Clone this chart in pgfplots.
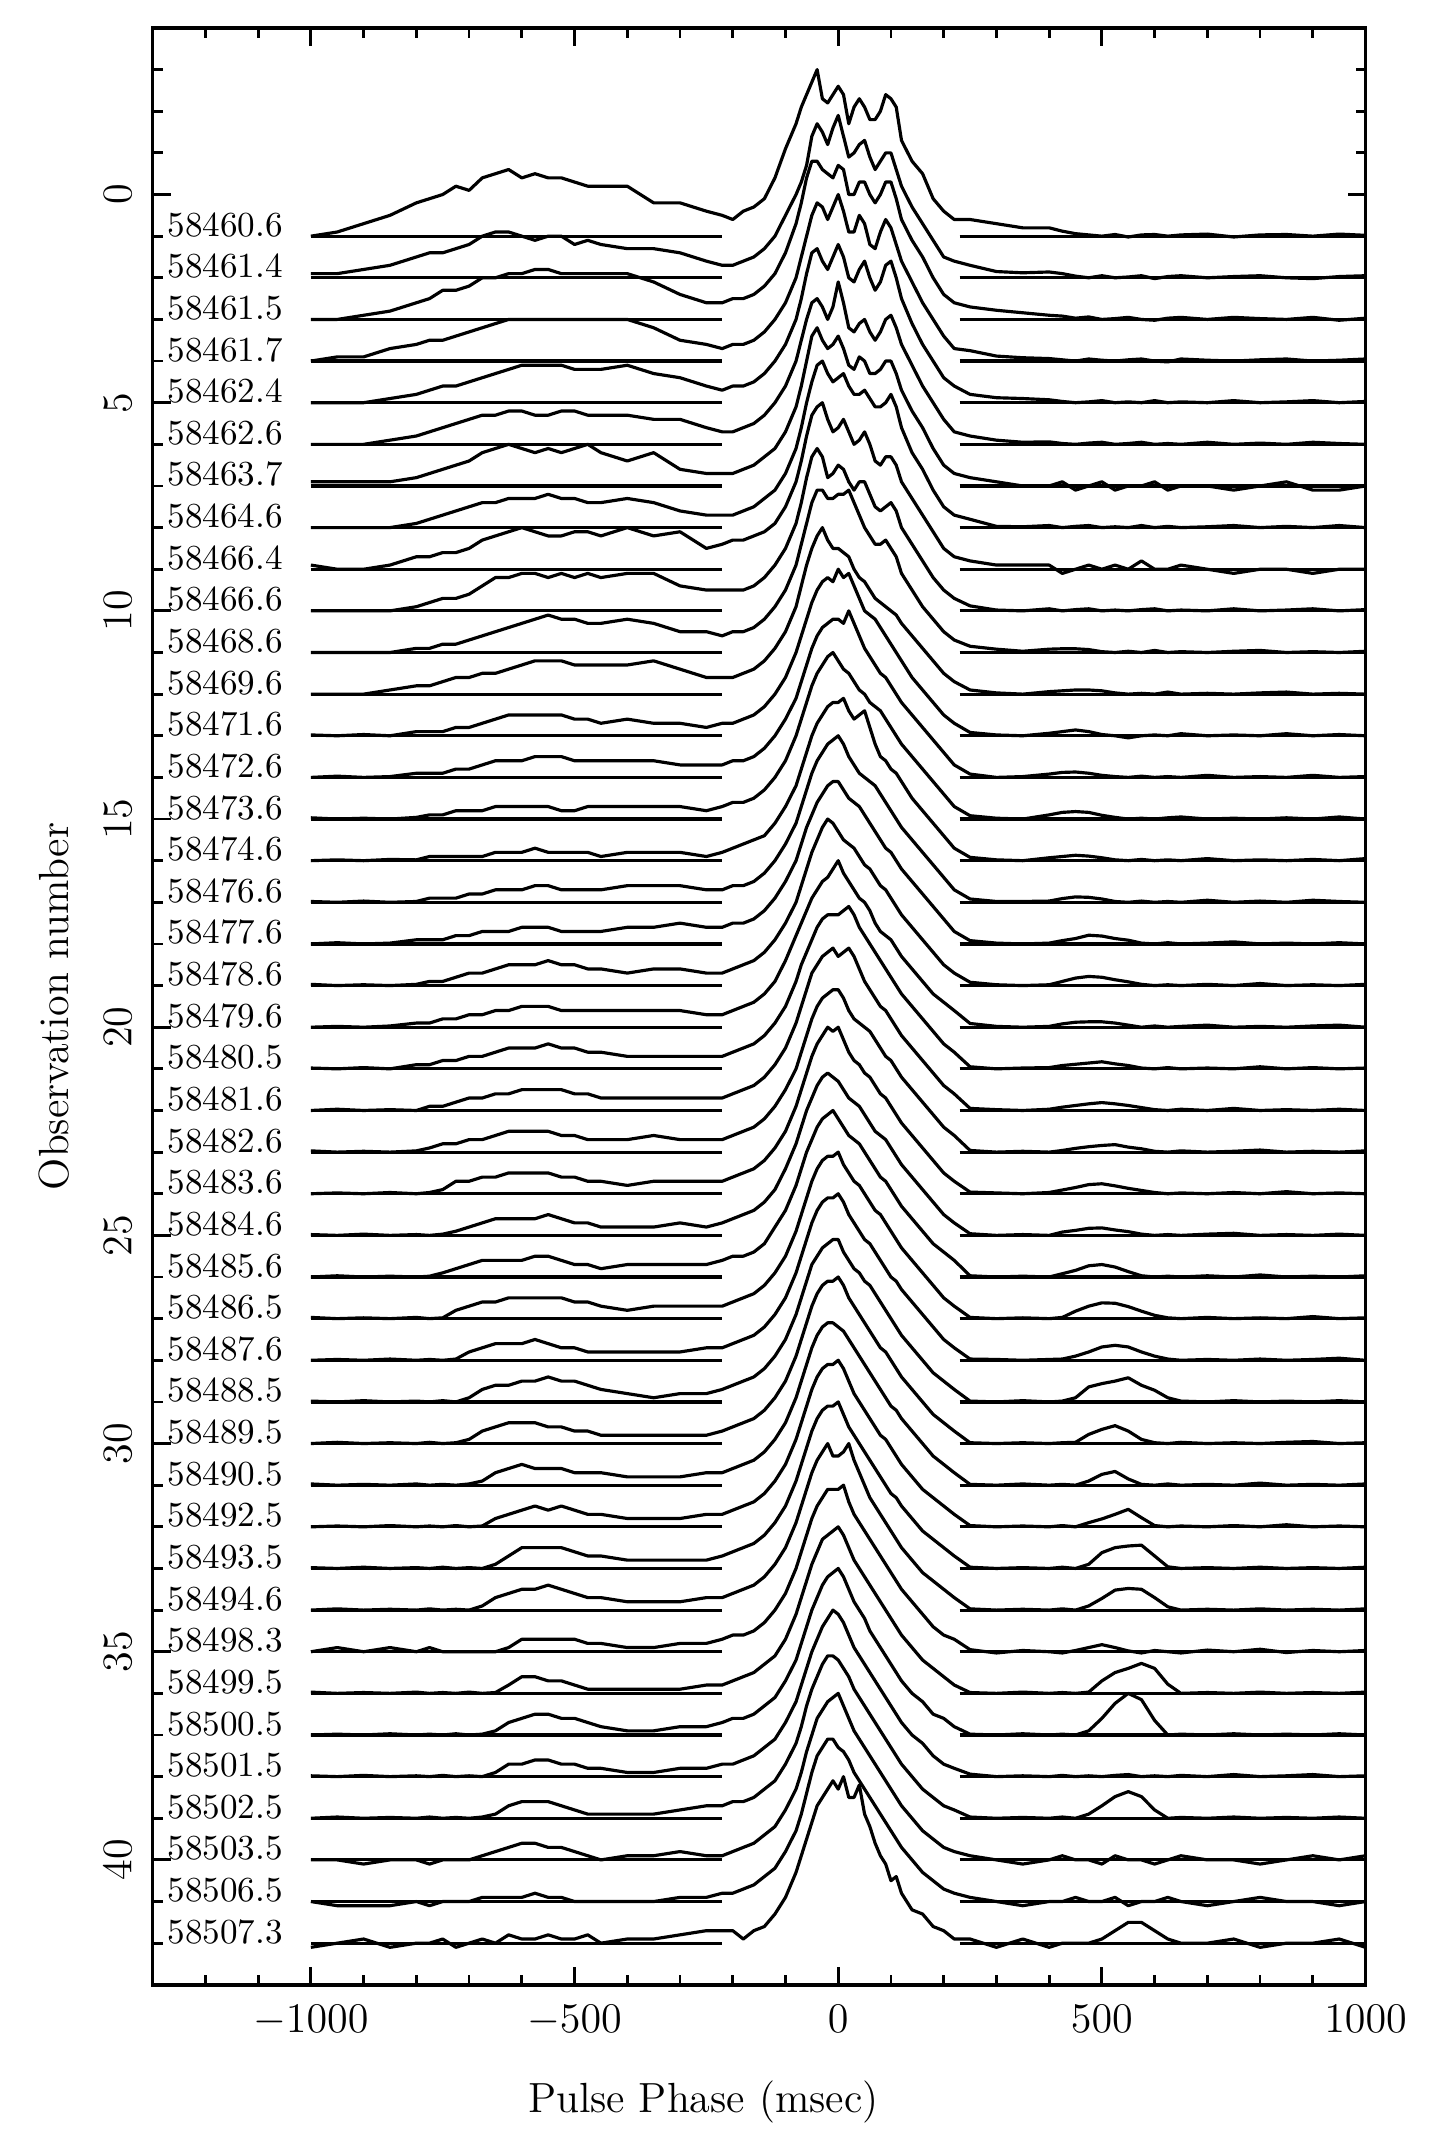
\documentclass[border=0pt]{standalone}
\usepackage{pgfplots}
\usepackage{pgfplotstable}
\pgfplotsset{compat=1.18}
\tikzset{dlab/.style={anchor=base west, inner sep=0pt, font=\fontsize{10}{12}\selectfont}}

% one row per observation, amplitudes in tenths of the row spacing
\pgfplotstableread[header=has colnames]{
n -1000 -950 -900 -850 -800 -775 -750 -725 -700 -675 -650 -625 -600 -575 -550 -525 -500 -475 -450 -400 -350 -300 -250 -220 -200 -180 -160 -140 -120 -100 -80 -70 -60 -50 -40 -30 -20 -10 0 10 20 30 40 50 60 70 80 90 100 110 120 140 160 180 200 220 250 300 350 400 425 450 475 500 525 550 575 600 625 650 700 750 800 850 900 950 1000
1 0 1 3 5 8 9 10 12 11 14 15 16 14 15 14 14 13 12 12 12 8 8 6 5 4 6 7 9 14 21 27 31 34 37 40 33 32 34 36 34 27 31 33 31 28 28 30 34 33 31 23 18 15 9 6 4 4 3 2 2 1.2 0.6 0.3 0 0.4 -0.2 0.3 0.4 0 0.3 0.5 -0.2 0.3 0.4 0 0.5 0.2
2 1 1 2 3 5 6 6 7 8 10 11 11 10 9 10 10 8 9 8 7 7 6 4 3 3 4 5 7 10 15 20 23 27 34 37 35 32 36 39 34 29 30 32 33 29 26 28 30 30 26 22 17 13 9 5 4 3 1.5 1.2 1.4 1 0.4 0 0.5 0 0.2 0.5 -0.2 0.3 0.5 0 0.3 0.5 0 -0.2 0.3 0.5
3 0 0 1 2 4 5 7 7 8 10 10 11 11 12 12 11 11 11 11 11 9 6 4 4 5 5 6 8 11 16 23 28 34 38 38 36 35 34 37 36 30 30 33 33 30 28 30 33 33 29 24 19 15 10 6 4 3 2.2 1.6 1 0.8 0.3 0.6 0 0.2 0.5 0 -0.2 0.3 0.5 0 0.5 0.2 0 0.5 -0.2 0.3
4 0 1 1 3 4 5 5 6 7 8 9 10 10 10 10 10 10 10 10 10 8 5 4 3 4 4 5 7 10 14 20 25 30 35 38 37 34 37 40 36 31 31 35 33 28 27 31 34 32 28 24 19 14 10 6 3 2.5 1.2 0.8 0.6 0.3 0 0.5 0.2 0 0.3 0.5 0 -0.2 0.5 0.2 0 0.3 0.5 0 0.2 0.5
5 0 0 0 1 2 3 4 4 5 6 7 8 9 9 9 9 8 8 8 9 7 6 4 3 4 4 5 7 10 14 20 25 31 36 37 34 32 35 38 35 30 29 32 34 30 27 29 33 34 30 25 19 14 10 6 4 2 1.2 1 0.7 0.3 0 0.2 0.5 0 0.2 0 0.5 0 0.2 0 0.5 0 0.2 0.5 0 0.3
6 0 0 0 1 2 3 4 5 6 7 7 8 8 7 7 8 8 7 7 7 6 6 4 3 3 4 5 7 10 14 20 25 30 34 35 33 30 33 39 34 28 27 29 30 27 25 27 30 31 28 24 19 14 10 6 3 2 1 0.5 0.6 0.2 0 0.3 0.5 0 0.2 0.5 0 0.2 0 0.5 0 0.3 0 0.5 0.2 0
7 1 1 1 1 2 3 4 5 6 8 9 10 9 8 9 8 9 10 8 6 8 4 3 3 3 4 5 7 9 13 19 24 30 36 38 35 33 34 36 33 29 28 31 30 27 27 28 30 30 27 23 18 14 9 5 3 2 1 0 0 1 -1 0 1 -1 0 0 1 -1 0 0 -1 0 1 -1 -1 0
8 0 0 0 0 1 2 3 4 5 6 6 7 7 7 8 7 7 6 6 7 6 4 3 3 3 4 5 7 9 13 19 24 30 35 39 40 37 35 36 37 34 32 32 33 31 29 29 30 32 29 24 18 14 9 5 3 2 0.3 0.2 0.5 0 0.3 0.5 0 0.2 0 0.5 0 0.3 0 0.2 0.5 0 0.3 0 0.5 0
9 1 0 0 1 3 3 4 4 5 7 8 9 10 9 8 8 9 9 8 10 8 9 5 6 7 7 8 9 11 15 21 26 32 37 39 40 36 33 34 36 33 30 31 33 30 26 25 27 27 25 21 17 13 9 5 3 2 1 1 1 -1 0 1 0 1 0 2 0 0 1 0 -1 0 0 -1 0 0
10 0 0 0 0 1 2 3 3 4 6 8 8 9 9 8 9 8 9 8 9 9 6 5 5 5 5 6 8 11 15 21 26 32 37 39 37 32 33 35 34 31 29 31 31 28 25 24 25 26 24 20 16 12 8 5 3 1.2 0.2 0 0.5 0 0.3 0.5 0 0.2 0 0.3 0.5 0 0.2 0 0.5 0 0.2 0.5 0 0.3
11 0 0 0 0 1 1 2 2 3 4 5 6 7 8 9 8 8 7 7 8 7 5 5 4 5 5 6 8 11 15 21 26 31 36 39 39 37 37 38 38 39 36 33 30 28 26 26 27 25 23 19 15 11 8 5 3 1.5 0.8 0.3 0.8 0.9 0.9 0.7 0.2 0 0.3 0 0.5 0 0.2 0 0.3 0.5 0 0.2 0 0.3
12 0 0 0 1 2 2 3 4 4 5 5 6 7 8 8 8 7 7 7 7 8 6 4 4 4 5 6 8 11 15 21 26 31 35 38 40 37 35 35 34 33 30 28 27 25 23 22 21 20 19 17 14 11 8 5 3 1 0.3 0 0.6 0.8 1 1 0.8 0.3 0 0.2 0 0.5 0 0.2 0 0.3 0.5 0 0.2 0
13 0.2 0 0.3 0 1 1 1 2 2 3 4 5 5 5 5 5 4 4 3 4 3 3 2 3 3 4 5 7 10 14 20 24 28 32 35 37 38 37 40 38 39 36 33 30 29 28 26 24 22 20 18 14 11 8 5 3 0.8 0.2 0 0.6 1 1.4 1 0.3 0 -0.5 0 0.2 0 0.5 0 0.2 0 0.5 0 0.3 0
14 0 0.3 0 0.2 1 1 1 2 2 3 4 4 4 5 5 5 4 4 4 4 4 3 3 3 4 4 5 7 10 14 19 23 27 31 34 36 37 38 38 37 40 37 34 31 29 27 25 24 22 20 18 15 12 9 6 3 0.8 0 0.2 0.8 1.2 1.3 1 0.5 0.2 0 0.3 0 0.2 0 0.5 0 0.2 0 0.5 0 0.2
15 0.3 0 0.2 0 0.4 1 1 2 2 2 3 3 3 3 3 2 2 3 3 3 3 3 2 3 4 4 5 7 10 14 20 24 28 32 35 37 39 40 38 36 35 33 31 30 28 27 26 24 22 20 18 15 12 9 6 3 0.8 0.2 0 1 1.6 1.8 1.6 0.9 0.4 0 0.2 0 0.3 0.5 0 0.2 0 0.3 0 0.5 0
16 0 0.2 0 0.3 0.2 1 1 1 1 1 2 2 2 3 2 2 2 2 1 2 2 2 1 2 3 4 5 6 9 13 18 22 26 30 33 35 37 38 38 39 36 34 35 36 32 28 25 24 22 21 19 15 12 9 6 3 0.8 0.2 0 0.7 1 1.3 1.1 0.7 0.2 0 0.3 0 0.2 0 0.5 0 0.2 0 0.3 0 0.5
17 0.2 0 0.3 0 0.2 1 1 1 2 2 3 3 3 4 4 3 3 3 3 4 4 4 3 3 4 4 5 7 10 14 19 23 27 31 34 36 38 39 40 38 35 33 31 30 29 28 26 24 22 20 18 15 12 9 6 3 0.8 0.2 0.2 0.3 0.9 1.3 1.2 0.8 0.2 0 0.3 0 0.2 0 0.5 0 0.3 0 0.5 0.2 0
18 0 0.3 0 0.2 1 1 1 2 2 3 3 3 4 4 4 3 3 3 3 4 4 5 4 4 5 5 6 8 11 15 20 24 28 31 34 36 38 39 39 37 35 34 33 31 29 27 25 23 22 20 18 15 12 9 6 3 0.8 0.2 0 0.2 0.8 1.3 2.1 1.9 1.3 0.9 0.2 0 0.3 0 0.2 0.5 0 0.2 0 0.3 0
19 0.3 0 0.2 0 0.3 1 1 2 3 3 4 5 5 5 6 5 5 4 4 3 4 4 3 3 4 5 6 8 11 15 20 24 28 32 35 38 40 39 37 35 34 33 31 29 28 26 24 23 21 19 17 14 11 8 5 3 0.8 0.2 0 0.2 1 1.8 2.2 2 1.4 0.9 0.3 0 0.2 0 0.3 0 0.5 0 0.2 0 0.3
20 0 0.2 0 0.3 1 1 2 2 3 3 4 4 5 5 5 4 4 4 4 4 4 4 3 3 4 5 6 8 11 16 22 25 28 31 33 35 36 38 40 37 35 33 31 30 28 25 23 22 21 19 17 14 11 8 6 4 0.9 0.2 0 0.2 0.8 1.2 1.3 1.3 1 0.5 0 0.3 0 0.2 0.5 0 0.2 0 0.3 0.5 0
21 0.2 0 0.3 0 1 1 2 2 3 3 4 5 5 5 6 5 5 4 4 3 3 3 3 3 4 5 6 8 11 15 21 25 28 31 34 36 37 37 37 38 39 37 34 32 30 28 26 24 22 20 18 15 12 9 6 4 0.5 0 0.2 0.3 0.8 1.1 1.4 1.7 1.2 0.8 0.2 0 0.3 0 0.2 0 0.5 0 0.3 0 0.2
22 0 0.3 0 0.2 0 1 1 2 3 3 4 4 5 5 5 5 4 4 3 3 3 3 3 3 4 5 6 8 11 15 21 25 29 33 35 37 38 39 37 38 39 37 34 31 29 27 25 24 22 20 18 15 12 9 6 4 0.5 0.2 0 0.3 0.8 1.2 1.6 1.9 1.6 1.2 0.7 0.2 0 0.3 0 0.5 0 0.2 0 0.3 0
23 0.3 0 0.2 0 0.3 1 2 2 3 3 4 5 5 5 5 4 4 3 3 3 4 3 3 3 4 5 6 8 11 15 20 24 28 32 35 37 38 39 39 37 34 32 31 30 29 27 25 23 22 20 18 15 12 9 6 4 0.4 0 0.2 0 0.4 0.9 1.3 1.6 1.8 1.2 0.8 0.2 0 0.3 0 0.2 0.5 0 0.2 0 0.3
24 0 0.2 0 0.3 0 0.3 1 3 3 4 4 5 5 5 5 4 4 3 3 2 3 3 3 3 4 5 6 8 11 15 21 25 29 33 36 38 40 39 40 37 34 32 31 29 28 26 24 23 21 19 17 14 11 8 5 3 0.4 0.2 0 0.3 0.9 1.5 2.2 2.4 1.9 1.3 0.8 0.3 0 0.2 0 0.3 0 0.5 0 0.2 0
25 0.2 0 0.3 0 0.2 0 0.3 1 2 3 4 4 4 4 5 4 3 3 2 2 2 3 2 3 4 5 6 8 11 16 22 26 30 33 36 38 39 38 37 35 33 32 31 29 27 25 24 23 21 19 17 14 11 8 5 3 0.4 0 0.2 0 0.8 1.2 1.7 1.8 1.3 0.9 0.3 0 0.2 0 0.3 0.5 0 0.2 0 0.3 0
26 0 0.3 0 0.2 0 0.2 1 2 3 4 4 4 4 5 5 4 3 3 2 3 3 3 3 4 5 5 6 8 12 16 22 26 30 33 36 38 39 40 38 36 34 33 32 30 28 26 24 23 21 19 17 14 11 8 6 4 0.3 0 0.2 0 0.8 1.6 2.7 3 2.4 1.3 0.3 0 0.2 0 0.3 0 0.5 0 0.2 0 0.3
27 0.3 0 0.2 0 0.3 0 0.2 2 3 4 4 5 5 5 5 5 4 4 3 2 3 3 3 3 4 5 6 8 11 15 21 25 29 33 36 38 39 39 40 37 35 33 32 30 28 26 25 23 21 19 17 14 11 8 5 3 0.3 0 0.2 0 0.3 1.8 3 3.8 3.7 2.9 1.8 0.8 0.2 0 0.3 0 0.2 0 0.5 0 0.2
28 0 0.2 0 0.3 0 0.2 0 0.3 2 3 4 4 4 5 4 3 3 2 2 2 2 2 3 3 4 5 6 8 11 15 21 25 29 33 36 38 39 39 40 38 35 33 31 29 28 26 24 22 20 19 17 14 11 8 5 3 0.3 0.2 0 0.2 0.3 1 2 3.2 3.6 3.2 2 1 0.3 0 0.2 0 0.3 0 0.2 0.5 0
29 0.2 0 0.3 0 0.2 0 0.3 0 1 3 4 4 5 5 6 5 5 4 3 2 1 2 2 3 4 5 6 8 11 15 21 25 29 33 35 37 38 39 39 36 34 32 31 29 28 26 24 22 20 18 16 13 10 7 5 3 0.2 0 0.3 0 0.2 1 3.6 4.4 5 5.8 4 2.8 1 0.2 0 0.3 0 0.2 0 0.3 0
30 0 0.3 0 0.2 0 0.3 0 0.2 1 3 4 5 5 5 4 4 3 3 2 2 2 2 2 3 4 5 6 8 11 15 21 25 29 33 36 38 39 39 40 38 35 33 31 29 27 25 23 22 20 18 16 13 10 7 5 3 0.2 0 0.2 0 0.2 0.3 2.2 3.4 4.3 3 1 0.2 0 0.3 0 0.2 0 0.3 0.5 0 0.2
31 0.3 0 0.2 0 0.3 0 0.2 0 0.3 1 3 4 5 4 4 4 3 3 3 2 2 2 3 3 4 5 6 8 11 15 21 25 29 33 36 38 39 39 38 37 35 33 31 29 27 25 23 21 19 18 16 13 10 7 5 3 0.2 0 0.3 0 0.2 0 1 2.6 3.3 1.5 0.2 0 0.3 0 0.2 0 0.5 0 0.2 0 0.3
32 0 0.2 0 0.3 0 0.2 0 0.3 0 0.2 2 3 4 5 4 5 4 3 3 2 2 2 3 3 4 5 6 8 11 15 21 25 29 33 36 38 39 39 40 38 35 32 30 28 26 24 22 21 19 17 15 12 9 7 5 3 0.3 0 0.2 0 0.3 0 1 1.9 3 4.2 2.2 0.3 0 0.2 0 0.3 0 0.5 0 0.2 0
33 0.2 0 0.3 0 0.2 0 0.3 0 0.2 0 1 3 5 5 5 5 4 3 3 2 2 2 2 3 4 5 6 8 11 15 21 25 29 33 36 38 39 39 40 37 34 32 30 28 26 24 22 20 18 17 15 12 9 7 5 3 0.3 0 0.2 0 0.3 0 1 3.8 5 5.4 5.6 3 0.4 0 0.2 0 0.3 0 0.2 0 0.3
34 0 0.3 0 0.2 0 0.3 0 0.2 0 1 3 4 5 5 6 5 4 3 3 2 2 2 3 3 4 5 6 8 11 15 21 25 29 33 36 38 40 37 37 38 40 36 33 30 27 25 23 21 19 17 15 12 9 7 5 3 0.3 0 0.2 0 0.3 0 1 2.8 4.8 5.2 5 3 0.8 0 0.2 0 0.3 0 0.2 0 0.3
35 0 1 0 1 0 1 0 0 0 0 0 1 3 3 3 3 3 2 2 1 1 2 2 3 4 4 5 7 10 14 20 24 28 32 35 37 39 39 39 40 36 33 31 29 27 25 23 21 19 17 15 12 9 6 4 3 0.5 -0.3 0.3 0 -0.3 0.3 1 1.7 1 0.2 -0.3 0.3 0 -0.3 0.4 0 0.6 -0.2 0.3 0 0.3
36 0.3 0 0.2 0 0.3 0 0.2 0 0.3 0 0.2 2 4 4 3 3 2 1 1 1 1 1 2 2 3 4 5 7 9 13 19 23 27 31 34 37 38 39 40 38 35 32 30 28 26 24 22 20 18 16 14 11 8 6 4 2 0.2 0 0.3 0 0.2 0 0.3 3 5 6 7.2 6 2.2 0 0.2 0 0.3 0 0.2 0 0.3
37 0 0.2 0 0.3 0 0.2 0 0.3 0 0.2 1 3 4 5 5 4 4 3 2 1 1 2 2 3 4 4 5 7 9 13 18 22 26 30 33 36 38 39 40 38 35 32 30 28 25 23 21 19 17 15 13 10 8 5 4 2 0.2 0 0.3 0 0.2 0 1 4 7.6 10 8.5 3.5 0 0.2 0 0.3 0 0.2 0 0.3 0
38 0.2 0 0.3 0 0.2 0 0.3 0 0.2 0 1 3 3 4 4 3 3 2 2 1 1 2 2 3 3 4 5 7 9 13 18 22 26 30 33 36 38 40 39 37 34 31 29 27 25 23 21 19 17 15 13 10 8 5 3 2 0.6 0 0.2 0 0.3 0 0.2 0 0.3 0.5 0 0.2 0 0.3 0 0.5 0 0.2 0.5 0 0.2
39 0 0.3 0 0.2 0 0.3 0 0.2 0 0.3 1 3 4 4 4 3 2 1 1 1 1 2 3 3 4 4 5 7 9 13 18 22 27 31 34 37 39 39 38 36 34 31 29 27 25 23 21 19 17 15 13 10 7 5 3 2 0.3 0 0.2 0 0.3 0 1 3 5.2 6.4 5.2 2 0 0.2 0 0.3 0 0.2 0 0.3 0
40 0 0 -1 0 0 -1 0 0 0 1 2 3 4 4 3 3 2 1 0 1 1 2 1 1 2 3 4 6 8 12 17 21 26 30 34 36 38 39 40 37 34 31 29 27 25 23 21 19 17 15 13 10 7 5 3 2 1 0 -1 0 1 0 0 -1 1 0 0 -1 0 1 0 0 -1 0 1 0 1
41 0 -1 -1 -1 0 -1 0 0 0 1 1 1 1 2 1 1 0 0 0 0 0 1 1 2 2 3 4 6 8 12 17 21 26 31 35 37 39 39 37 36 34 31 29 27 25 23 21 19 17 15 13 10 7 5 3 2 1 0 -1 0 0 1 0 0 1 -1 0 0 1 0 -1 0 1 0 0 -1 0
42 -1 0 1 -1 0 0 1 -1 0 1 0 2 1 1 2 1 1 2 0 1 1 2 3 3 3 1 3 4 7 11 17 21 25 29 33 35 37 39 37 40 35 35 38 31 28 24 21 19 15 16 12 8 7 4 3 1 1 -1 1 -1 0 0 0 1 3 5 5 3 1 0 0 1 -1 0 0 1 -1
}\rawprof
\pgfplotstabletranspose[colnames from=n, input colnames to=x]{\prof}{\rawprof}

\begin{document}
\begin{tikzpicture}
\begin{axis}[
    scale only axis,
    width=121.3mm, height=195.7mm,
    xmin=-1300, xmax=1000,
    ymin=-4, ymax=43, y dir=reverse,
    axis line style={line width=1pt},
    xtick={-1000,-500,0,500,1000},
    minor xtick={-1300,-1200,...,1000},
    ytick={0,5,...,40},
    minor ytick={-4,-3,...,43},
    major tick length=1.8mm,
    minor tick length=1mm,
    every tick/.style={black, line width=0.8pt},
    /pgf/number format/1000 sep={},
    tick label style={font=\fontsize{11.5}{13}\selectfont},
    xticklabel style={yshift=-0.8mm},
    yticklabel style={xshift=-0.9mm, rotate=90, anchor=south},
    xlabel={Pulse Phase (msec)},
    ylabel={Observation number},
    label style={font=\fontsize{12}{14}\selectfont},
    xlabel style={at={(axis description cs:0.454,-0.06)}, anchor=center},
    ylabel style={at={(axis description cs:-0.081,0.5)}, anchor=center},
    prof/.style={black, line width=0.9pt, line join=round, mark=none},
    base/.style={black, line width=0.9pt, mark=none},
]
\pgfplotsinvokeforeach{1,...,42}{
    \addplot[prof] table[x=x, y expr={#1-\thisrow{#1}/10}] {\prof};
    \addplot[base] coordinates {(-1000,#1) (-220,#1)};
    \addplot[base] coordinates {(230,#1) (1000,#1)};
}
\node[dlab] at (axis cs:-1273,1) {58460.6};
\node[dlab] at (axis cs:-1273,2) {58461.4};
\node[dlab] at (axis cs:-1273,3) {58461.5};
\node[dlab] at (axis cs:-1273,4) {58461.7};
\node[dlab] at (axis cs:-1273,5) {58462.4};
\node[dlab] at (axis cs:-1273,6) {58462.6};
\node[dlab] at (axis cs:-1273,7) {58463.7};
\node[dlab] at (axis cs:-1273,8) {58464.6};
\node[dlab] at (axis cs:-1273,9) {58466.4};
\node[dlab] at (axis cs:-1273,10) {58466.6};
\node[dlab] at (axis cs:-1273,11) {58468.6};
\node[dlab] at (axis cs:-1273,12) {58469.6};
\node[dlab] at (axis cs:-1273,13) {58471.6};
\node[dlab] at (axis cs:-1273,14) {58472.6};
\node[dlab] at (axis cs:-1273,15) {58473.6};
\node[dlab] at (axis cs:-1273,16) {58474.6};
\node[dlab] at (axis cs:-1273,17) {58476.6};
\node[dlab] at (axis cs:-1273,18) {58477.6};
\node[dlab] at (axis cs:-1273,19) {58478.6};
\node[dlab] at (axis cs:-1273,20) {58479.6};
\node[dlab] at (axis cs:-1273,21) {58480.5};
\node[dlab] at (axis cs:-1273,22) {58481.6};
\node[dlab] at (axis cs:-1273,23) {58482.6};
\node[dlab] at (axis cs:-1273,24) {58483.6};
\node[dlab] at (axis cs:-1273,25) {58484.6};
\node[dlab] at (axis cs:-1273,26) {58485.6};
\node[dlab] at (axis cs:-1273,27) {58486.5};
\node[dlab] at (axis cs:-1273,28) {58487.6};
\node[dlab] at (axis cs:-1273,29) {58488.5};
\node[dlab] at (axis cs:-1273,30) {58489.5};
\node[dlab] at (axis cs:-1273,31) {58490.5};
\node[dlab] at (axis cs:-1273,32) {58492.5};
\node[dlab] at (axis cs:-1273,33) {58493.5};
\node[dlab] at (axis cs:-1273,34) {58494.6};
\node[dlab] at (axis cs:-1273,35) {58498.3};
\node[dlab] at (axis cs:-1273,36) {58499.5};
\node[dlab] at (axis cs:-1273,37) {58500.5};
\node[dlab] at (axis cs:-1273,38) {58501.5};
\node[dlab] at (axis cs:-1273,39) {58502.5};
\node[dlab] at (axis cs:-1273,40) {58503.5};
\node[dlab] at (axis cs:-1273,41) {58506.5};
\node[dlab] at (axis cs:-1273,42) {58507.3};
\end{axis}
\path (current axis.south west) ++(-15.27mm,-15mm) rectangle ++(143.3mm,213.5mm);
\end{tikzpicture}
\end{document}
